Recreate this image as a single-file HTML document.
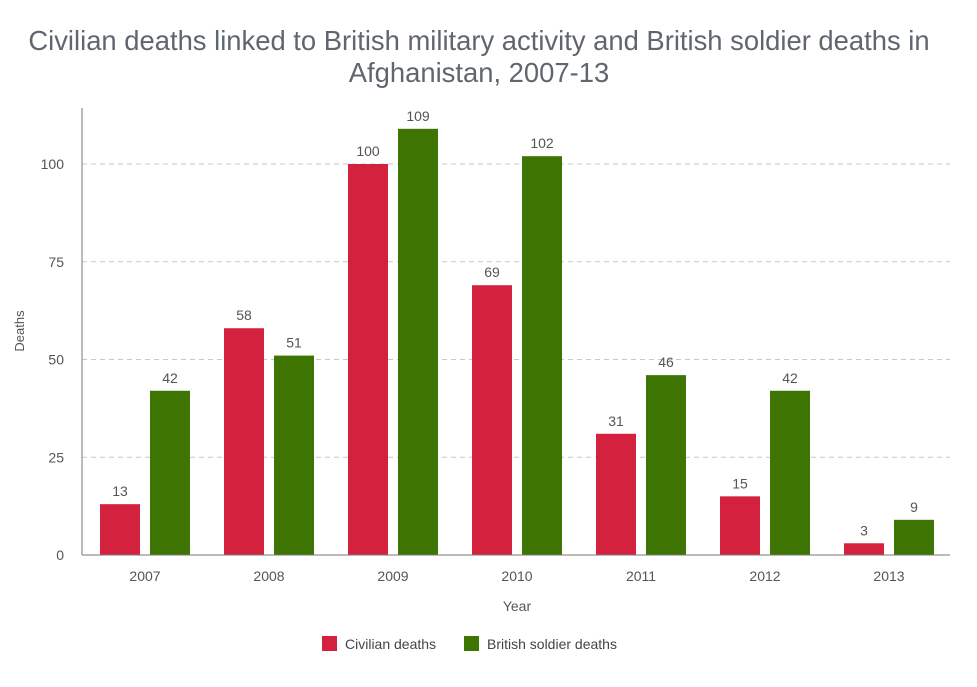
<!DOCTYPE html>
<html><head><meta charset="utf-8"><style>
body{margin:0;background:#fff;font-family:"Liberation Sans",sans-serif;}
svg text{font-family:"Liberation Sans",sans-serif;}
</style></head><body>
<svg id="chart" width="977" height="682">
<text x="479" y="50" text-anchor="middle" font-size="27.4" fill="#5f6670">Civilian deaths linked to British military activity and British soldier deaths in</text>
<text x="479" y="82" text-anchor="middle" font-size="27.4" fill="#5f6670">Afghanistan, 2007-13</text>
<g id="grid"></g><g id="bars"></g><g id="axes"></g>
<text x="517" y="611" text-anchor="middle" font-size="14" fill="#555">Year</text>
<text transform="translate(24,331) rotate(-90)" text-anchor="middle" font-size="13" fill="#555">Deaths</text>
<g>
<rect x="322" y="636" width="15" height="15" fill="#d4213d"/>
<text x="345" y="649" font-size="14" fill="#444">Civilian deaths</text>
<rect x="464" y="636" width="15" height="15" fill="#3e7502"/>
<text x="487" y="649" font-size="14" fill="#444">British soldier deaths</text>
</g>
</svg>
<script>
const categories=["2007","2008","2009","2010","2011","2012","2013"];
const civilian=[13,58,100,69,31,15,3];
const soldiers=[42,51,109,102,46,42,9];
const yTicks=[0,25,50,75,100];
const ns="http://www.w3.org/2000/svg";
const x0=82,x1=950,yBase=555,yPer=3.91;
const band=(x1-x0)/categories.length;
const xC=i=>x0+band*(i+0.5)+1;
const y=v=>yBase-v*yPer;
function mk(tag,attrs,parent){const e=document.createElementNS(ns,tag);for(const k in attrs)e.setAttribute(k,attrs[k]);parent.appendChild(e);return e;}
const grid=document.getElementById('grid'),bars=document.getElementById('bars'),axes=document.getElementById('axes');
yTicks.forEach(t=>{
  if(t>0){const l=mk('line',{x1:x0,x2:x1,y1:y(t),y2:y(t),stroke:'#c8c8c8','stroke-dasharray':'5,4'},grid);
  
  }
  const tx=mk('text',{x:64,y:y(t)+5,'text-anchor':'end','font-size':14,fill:'#555'},axes);tx.textContent=t;
  
  
});
const ya=mk('line',{x1:x0,x2:x0,y1:108,y2:yBase,stroke:'#777'},axes);


const xa=mk('line',{x1:x0,x2:x1,y1:yBase,y2:yBase,stroke:'#777'},axes);


categories.forEach((c,i)=>{
  const cx=xC(i);
  const tl=mk('text',{x:cx,y:581,'text-anchor':'middle','font-size':14,fill:'#555'},axes);tl.textContent=c;
  
  
  [[civilian[i],cx-45,'#d4213d','bar-civilian'],[soldiers[i],cx+5,'#3e7502','bar-soldier']].forEach(([v,bx,col,nm])=>{
    const r=mk('rect',{x:bx,y:y(v),width:40,height:v*yPer,fill:col},bars);
    
    
    const lb=mk('text',{x:bx+20,y:y(v)-8,'text-anchor':'middle','font-size':14,fill:'#555'},bars);lb.textContent=v;
    
    
  });
});
</script>
</body></html>
